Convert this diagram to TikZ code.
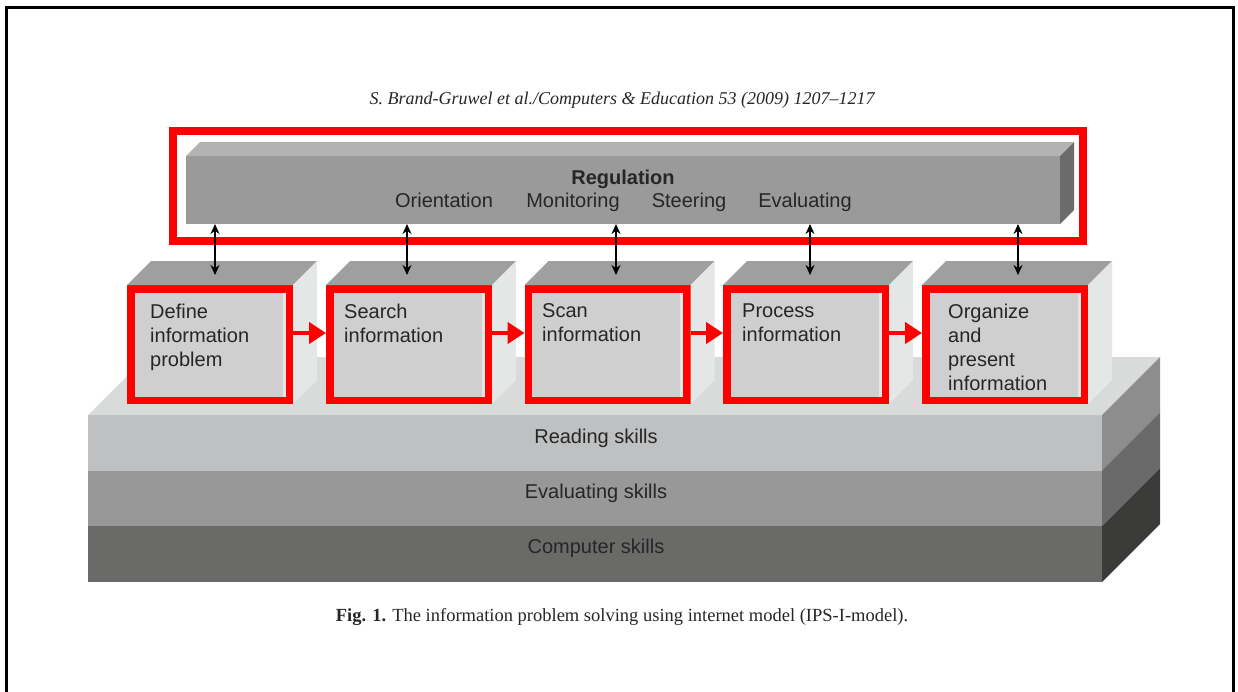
\documentclass[tikz,border=0pt]{standalone}
\usepackage{fontspec}
\setmainfont{Liberation Serif}
\newfontfamily\hv{Liberation Sans}
\usetikzlibrary{arrows.meta}
\definecolor{regtop}{HTML}{B3B3B3}
\definecolor{regfront}{HTML}{9A9A9A}
\definecolor{regside}{HTML}{6B6B6B}
\definecolor{cubetop}{HTML}{9F9F9F}
\definecolor{cubefront}{HTML}{CFCFCF}
\definecolor{cubeside}{HTML}{E5E6E6}
\definecolor{plattop}{HTML}{D9DADA}
\definecolor{readc}{HTML}{BFC0C1}
\definecolor{readside}{HTML}{8D8D8D}
\definecolor{evalc}{HTML}{979897}
\definecolor{evalside}{HTML}{6A6A6A}
\definecolor{compc}{HTML}{6A6A69}
\definecolor{compside}{HTML}{3B3B39}
\definecolor{txt}{HTML}{262626}
\definecolor{hred}{HTML}{FF0000}
\tikzset{
  cubebox/.style={fill=cubefront, draw=hred, line width=7.5pt, minimum width=158.5pt, minimum height=111.5pt, inner sep=0pt},
  boxtext/.style={font=\hv\fontsize{20}{24}\selectfont, text=txt, align=left, anchor=north west, inner sep=0pt},
  bandtext/.style={font=\hv\fontsize{20}{24}\selectfont, text=txt, anchor=base, inner sep=0pt},
  band/.style={minimum width=1014pt, minimum height=55.7pt, anchor=north west, inner sep=0pt, outer sep=0pt},
  redarr/.style={draw=hred, line width=4.5pt, -{Triangle[length=17pt,width=21pt]}},
  vertarr/.style={draw=black, line width=1.3pt, {Stealth[length=10pt,width=9pt]}-{Stealth[length=10pt,width=9pt]}},
}
\begin{document}
\begin{tikzpicture}[x=1pt,y=-1pt]
\useasboundingbox (0,0) rectangle (1238,691);
\begin{scope}
\clip (0,0) rectangle (1238,691);
\draw[line width=2.6pt] (6.2,720) -- (6.2,7.5) -- (1233.3,7.5) -- (1233.3,720);
\end{scope}
% header
\node[font=\itshape\fontsize{18}{20}\selectfont, text=txt, anchor=base, inner sep=0pt] (hdr) at (622,104) {S. Brand-Gruwel et al./Computers \& Education 53 (2009) 1207--1217};
% platform
\node[band, fill=readc] (read) at (88,415) {};
\node[band, fill=evalc] (eval) at (88,470.7) {};
\node[band, fill=compc] (comp) at (88,526.3) {};
\fill[plattop] (read.north west) -- ++(58,-58) -- ([shift={(58pt,58pt)}]read.north east) -- (read.north east) -- cycle;
\fill[readside] (read.north east) -- ++(58,-58) -- ([shift={(58pt,58pt)}]read.south east) -- (read.south east) -- cycle;
\fill[evalside] (eval.north east) -- ++(58,-58) -- ([shift={(58pt,58pt)}]eval.south east) -- (eval.south east) -- cycle;
\fill[compside] (comp.north east) -- ++(58,-58) -- ([shift={(58pt,58pt)}]comp.south east) -- (comp.south east) -- cycle;
\node[bandtext] (readt) at (596,443) {Reading skills};
\node[bandtext] (evalt) at (596,498) {Evaluating skills};
\node[bandtext] (compt) at (596,553) {Computer skills};
% cubes
\foreach \i/\x in {1/127,2/326,3/524.5,4/723,5/922}{
  \node[cubebox, anchor=north west] (b\i) at (\x,285) {};
  \fill[cubetop] (b\i.north west) -- ++(24,-24) -- ([shift={(24pt,24pt)}]b\i.north east) -- (b\i.north east) -- cycle;
  \fill[cubeside] (b\i.north east) -- ++(24,-24) -- ([shift={(24pt,24pt)}]b\i.south east) -- (b\i.south east) -- cycle;
  \fill[cubeside] ([shift={(-10.5pt,-7.5pt)}]b\i.north east) rectangle ([shift={(-7.5pt,7.5pt)}]b\i.south east);
}
\node[boxtext] (t1) at (150,303.5) {Define\\information\\problem};
\node[boxtext] (t2) at (344,303.5) {Search\\information};
\node[boxtext] (t3) at (542,303.5) {Scan\\information};
\node[boxtext] (t4) at (742,303.5) {Process\\information};
\node[boxtext] (t5) at (948,303.5) {Organize\\and\\present\\information};
\foreach \i/\j in {1/2,2/3,3/4,4/5}{
  \draw[redarr] ([yshift=11.5pt]b\i.east) -- ([yshift=11.5pt]b\j.west);
}
% regulation bar
\node[fill=regfront, minimum width=874pt, minimum height=68pt, anchor=north west, inner sep=0pt, outer sep=0pt] (reg) at (186,156) {};
\fill[regtop] (reg.north west) -- ++(14,-14) -- ([shift={(14pt,14pt)}]reg.north east) -- (reg.north east) -- cycle;
\fill[regside] (reg.north east) -- ++(14,-14) -- ([shift={(14pt,14pt)}]reg.south east) -- (reg.south east) -- cycle;
\node[font=\hv\bfseries\fontsize{20}{24}\selectfont, text=txt, anchor=base, inner sep=0pt] (regt) at (623,184) {Regulation};
\node[bandtext] (or) at (444,207) {Orientation};
\node[bandtext] (mo) at (573,207) {Monitoring};
\node[bandtext] (st) at (689,207) {Steering};
\node[bandtext] (ev) at (805,207) {Evaluating};
\node[draw=hred, line width=8pt, minimum width=910pt, minimum height=110pt, inner sep=0pt] (regbox) at (628,186) {};
% vertical arrows
\foreach \i/\x in {1/215,2/407,3/616,4/810,5/1018}{
  \coordinate (a\i) at (\x,275);
  \draw[vertarr] (reg.south -| a\i) -- (a\i);
}
% caption
\node[font=\fontsize{18.5}{20}\selectfont, text=txt, anchor=base, inner sep=0pt] (cap) at (622,621) {\textbf{Fig. 1.} The information problem solving using internet model (IPS-I-model).};
\end{tikzpicture}
\end{document}
